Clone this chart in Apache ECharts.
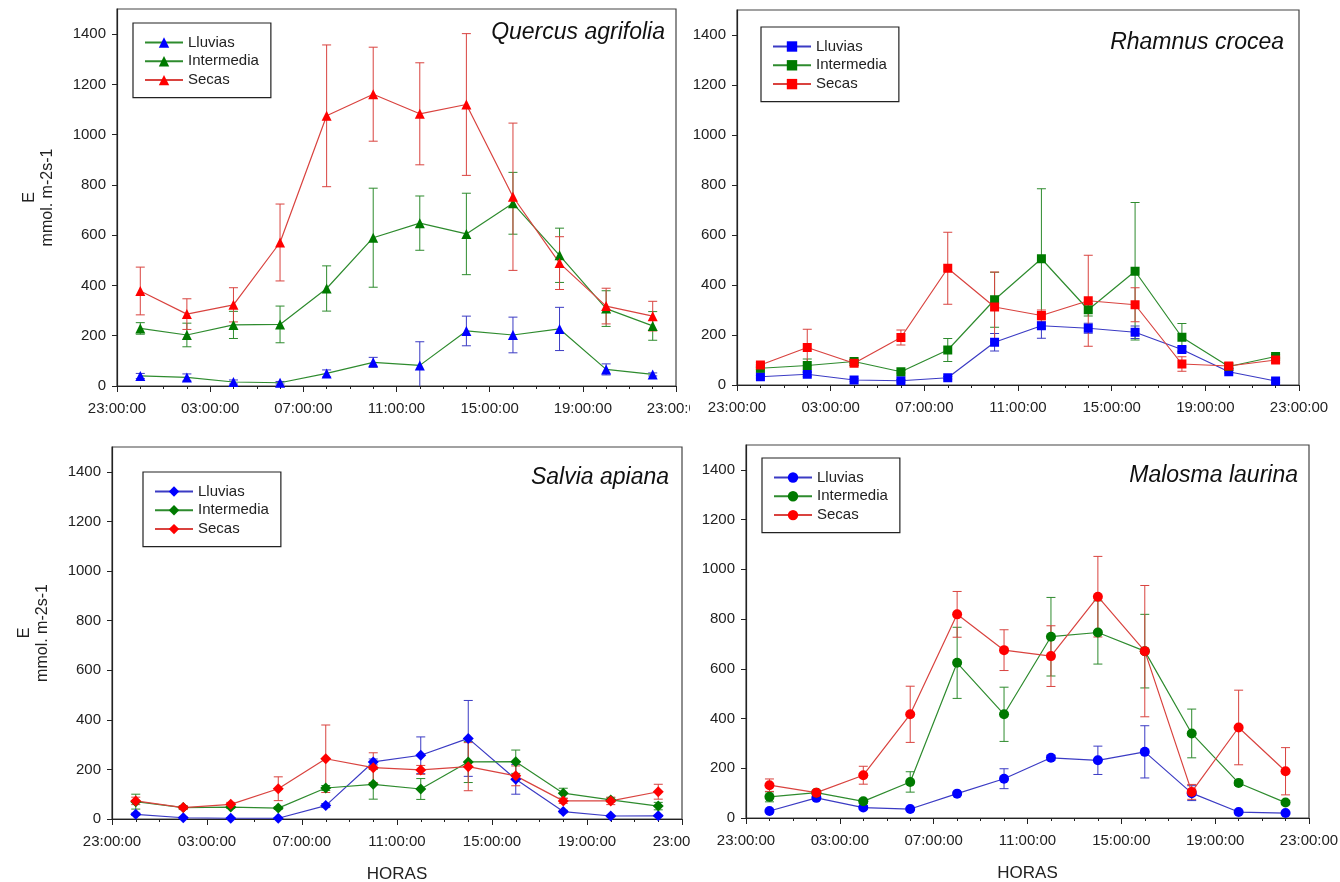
<!DOCTYPE html>
<html>
<head>
<meta charset="utf-8">
<script src="https://cdn.jsdelivr.net/npm/echarts@6/dist/echarts.min.js"></script>
<style>
body{margin:0;background:#fff;width:1340px;height:882px;overflow:hidden;position:relative}
.panel{position:absolute;overflow:hidden}
#p1{left:0;top:0;width:690px;height:441px}
#p2{left:690px;top:0;width:650px;height:441px}
#p3{left:0;top:441px;width:690px;height:441px}
#p4{left:690px;top:441px;width:650px;height:441px}
</style>
</head>
<body>
<div class="panel" id="p1"></div>
<div class="panel" id="p2"></div>
<div class="panel" id="p3"></div>
<div class="panel" id="p4"></div>
<script>
// horas desde las 23:00 -> 00:00, 02:00 ... 22:00
var horas = [1, 3, 5, 7, 9, 11, 13, 15, 17, 19, 21, 23];
var etiquetasHora = ['23:00:00', '03:00:00', '07:00:00', '11:00:00', '15:00:00', '19:00:00', '23:00:00'];
var ticksY = [0, 200, 400, 600, 800, 1000, 1200, 1400];
var nombres = ['Lluvias', 'Intermedia', 'Secas'];

// Quercus agrifolia (media y error estandar)
var quercusLluvias = [40, 34, 16, 13, 50, 94, 82, 219, 203, 227, 66, 46];
var quercusLluviasEE = [10, 14, 8, 5, 14, 20, 94, 59, 71, 86, 22, 6];
var quercusIntermedia = [229, 203, 243, 245, 388, 590, 648, 605, 727, 520, 308, 239];
var quercusIntermediaEE = [23, 47, 54, 73, 90, 197, 108, 162, 123, 108, 71, 57];
var quercusSecas = [378, 286, 323, 571, 1075, 1161, 1083, 1120, 753, 489, 318, 278];
var quercusSecasEE = [95, 61, 68, 153, 282, 187, 203, 282, 293, 105, 71, 59];

// Rhamnus crocea
var rhamnusLluvias = [33, 43, 20, 17, 29, 171, 237, 227, 211, 142, 53, 16];
var rhamnusLluviasEE = [5, 8, 5, 5, 5, 35, 50, 20, 25, 10, 5, 5];
var rhamnusIntermedia = [67, 78, 94, 53, 140, 341, 505, 301, 455, 191, 74, 114];
var rhamnusIntermediaEE = [5, 26, 8, 5, 46, 110, 280, 25, 275, 55, 8, 8];
var rhamnusSecas = [80, 150, 87, 190, 467, 312, 278, 337, 321, 84, 76, 100];
var rhamnusSecasEE = [10, 73, 10, 30, 144, 140, 22, 182, 68, 29, 10, 10];

// Salvia apiana
var salviaLluvias = [19, 5, 3, 3, 54, 230, 257, 325, 160, 30, 12, 13];
var salviaLluviasEE = [5, 3, 2, 2, 8, 12, 74, 153, 60, 5, 3, 3];
var salviaIntermedia = [70, 46, 48, 44, 125, 140, 121, 230, 231, 104, 77, 52];
var salviaIntermediaEE = [30, 5, 5, 5, 10, 60, 42, 83, 47, 20, 8, 15];
var salviaSecas = [73, 46, 59, 122, 243, 207, 198, 211, 174, 73, 73, 110];
var salviaSecasEE = [15, 8, 8, 48, 136, 60, 18, 97, 40, 10, 15, 30];

// Malosma laurina
var malosmaLluvias = [28, 81, 42, 36, 98, 158, 242, 232, 266, 100, 24, 20];
var malosmaLluviasEE = [5, 8, 5, 5, 5, 40, 10, 57, 105, 30, 3, 3];
var malosmaIntermedia = [85, 102, 67, 145, 624, 417, 729, 746, 671, 340, 141, 62];
var malosmaIntermediaEE = [20, 8, 8, 41, 143, 109, 158, 127, 148, 98, 10, 8];
var malosmaSecas = [132, 102, 172, 417, 819, 675, 651, 890, 671, 105, 364, 188];
var malosmaSecasEE = [25, 8, 36, 113, 92, 82, 122, 162, 264, 30, 150, 95];

var colorLinea = ['#3b3bc4', '#2e8b2e', '#d9433f'];
var colorMarca = ['#0000ff', '#007a00', '#ff0000'];
var fuente = 'Liberation Sans';

var paneles = [
    {id: 'p1', especie: 'Quercus agrifolia', simbolo: 'triangle', tam: 10,
     datos: [quercusLluvias, quercusIntermedia, quercusSecas],
     ee: [quercusLluviasEE, quercusIntermediaEE, quercusSecasEE],
     grid: {left: 117, top: 9, width: 559, height: 377},
     leyenda: {left: 133, top: 23}, titulo: {right: 25, top: 21},
     nombreY: true, nombreX: false, lineaLluvias: '#2e8b2e'},
    {id: 'p2', especie: 'Rhamnus crocea', simbolo: 'rect', tam: 9,
     datos: [rhamnusLluvias, rhamnusIntermedia, rhamnusSecas],
     ee: [rhamnusLluviasEE, rhamnusIntermediaEE, rhamnusSecasEE],
     grid: {left: 47, top: 10, width: 562, height: 375},
     leyenda: {left: 71, top: 27}, titulo: {right: 56, top: 31},
     nombreY: false, nombreX: false},
    {id: 'p3', especie: 'Salvia apiana', simbolo: 'diamond', tam: 11,
     datos: [salviaLluvias, salviaIntermedia, salviaSecas],
     ee: [salviaLluviasEE, salviaIntermediaEE, salviaSecasEE],
     grid: {left: 112, top: 6, width: 570, height: 372},
     leyenda: {left: 143, top: 31}, titulo: {right: 21, top: 25},
     nombreY: true, nombreX: true},
    {id: 'p4', especie: 'Malosma laurina', simbolo: 'circle', tam: 10,
     datos: [malosmaLluvias, malosmaIntermedia, malosmaSecas],
     ee: [malosmaLluviasEE, malosmaIntermediaEE, malosmaSecasEE],
     grid: {left: 56, top: 4, width: 563, height: 373},
     leyenda: {left: 72, top: 17}, titulo: {right: 42, top: 23},
     nombreY: false, nombreX: true}
];

// barras de error: linea vertical con topes
function barrasError(params, api) {
    var x = api.value(0);
    var arriba = api.coord([x, api.value(2)]);
    var abajo = api.coord([x, api.value(1)]);
    var w = 4.5;
    var estilo = {stroke: api.visual('color'), lineWidth: 1};
    return {
        type: 'group',
        children: [
            {type: 'line', shape: {x1: arriba[0], y1: arriba[1], x2: abajo[0], y2: abajo[1]}, style: estilo},
            {type: 'line', shape: {x1: arriba[0] - w, y1: arriba[1], x2: arriba[0] + w, y2: arriba[1]}, style: estilo},
            {type: 'line', shape: {x1: abajo[0] - w, y1: abajo[1], x2: abajo[0] + w, y2: abajo[1]}, style: estilo}
        ]
    };
}

paneles.forEach(function (p) {
    var chart = echarts.init(document.getElementById(p.id));
    var series = [];
    for (let i = 0; i < 3; i++) {
        let barras = horas.map(function (h, j) {
            return [h, p.datos[i][j] - p.ee[i][j], p.datos[i][j] + p.ee[i][j]];
        });
        series.push({
            type: 'custom',
            name: 'ee ' + nombres[i],
            renderItem: barrasError,
            data: barras,
            encode: {x: 0, y: [1, 2]},
            clip: true,
            silent: true,
            itemStyle: {color: colorLinea[i]},
            z: 2
        });
    }
    for (let i = 0; i < 3; i++) {
        let puntos = horas.map(function (h, j) { return [h, p.datos[i][j]]; });
        series.push({
            type: 'line',
            name: nombres[i],
            data: puntos,
            symbol: p.simbolo,
            symbolSize: p.tam,
            lineStyle: {color: (i === 0 && p.lineaLluvias) ? p.lineaLluvias : colorLinea[i], width: 1.2},
            itemStyle: {color: colorMarca[i]},
            emphasis: {disabled: true},
            z: 3
        });
    }

    var option = {
        animation: false,
        textStyle: {fontFamily: fuente},
        title: {
            text: p.especie,
            right: p.titulo.right,
            top: p.titulo.top,
            padding: 0,
            textStyle: {fontFamily: fuente, fontStyle: 'italic', fontWeight: 'normal', fontSize: 23, color: '#111'}
        },
        legend: {
            data: nombres,
            orient: 'vertical',
            left: p.leyenda.left,
            top: p.leyenda.top,
            itemWidth: 38,
            itemHeight: 13,
            itemGap: 3.8,
            padding: [12, 12, 10, 11],
            borderColor: '#222',
            borderWidth: 1.2,
            selectedMode: false,
            textStyle: {fontFamily: fuente, fontSize: 15, color: '#222'}
        },
        grid: {
            left: p.grid.left, top: p.grid.top, width: p.grid.width, height: p.grid.height,
            show: true, borderColor: '#444', borderWidth: 1.2,
            containLabel: false, outerBoundsMode: 'none'
        },
        xAxis: {
            type: 'value',
            min: 0, max: 24, interval: 4,
            name: p.nombreX ? 'HORAS' : '',
            nameLocation: 'middle',
            nameGap: 47,
            nameTextStyle: {fontFamily: fuente, fontSize: 17, color: '#222'},
            axisLine: {show: true, lineStyle: {color: '#222', width: 1.2}},
            axisTick: {show: true, length: 6, lineStyle: {color: '#222'}},
            minorTick: {show: true, splitNumber: 4, length: 3, lineStyle: {color: '#222'}},
            axisLabel: {
                fontFamily: fuente, fontSize: 15, color: '#222', margin: 15, hideOverlap: false,
                formatter: function (v) { return etiquetasHora[Math.round(v / 4)]; }
            },
            splitLine: {show: false}
        },
        yAxis: {
            type: 'value',
            min: 0, max: 1500, interval: 200,
            name: p.nombreY ? 'E\nmmol. m-2s-1' : '',
            nameLocation: 'middle',
            nameRotate: 90,
            nameGap: 60,
            nameTextStyle: {fontFamily: fuente, fontSize: 16, lineHeight: 18, color: '#222'},
            axisLine: {show: true, lineStyle: {color: '#222', width: 1.2}},
            axisTick: {show: true, length: 5, customValues: ticksY, lineStyle: {color: '#222'}},
            axisLabel: {
                fontFamily: fuente, fontSize: 15, color: '#222', margin: 11, customValues: ticksY,
                formatter: function (v) { return String(v); }
            },
            splitLine: {show: false}
        },
        series: series
    };

    chart.setOption(option);
});
</script>
</body>
</html>
